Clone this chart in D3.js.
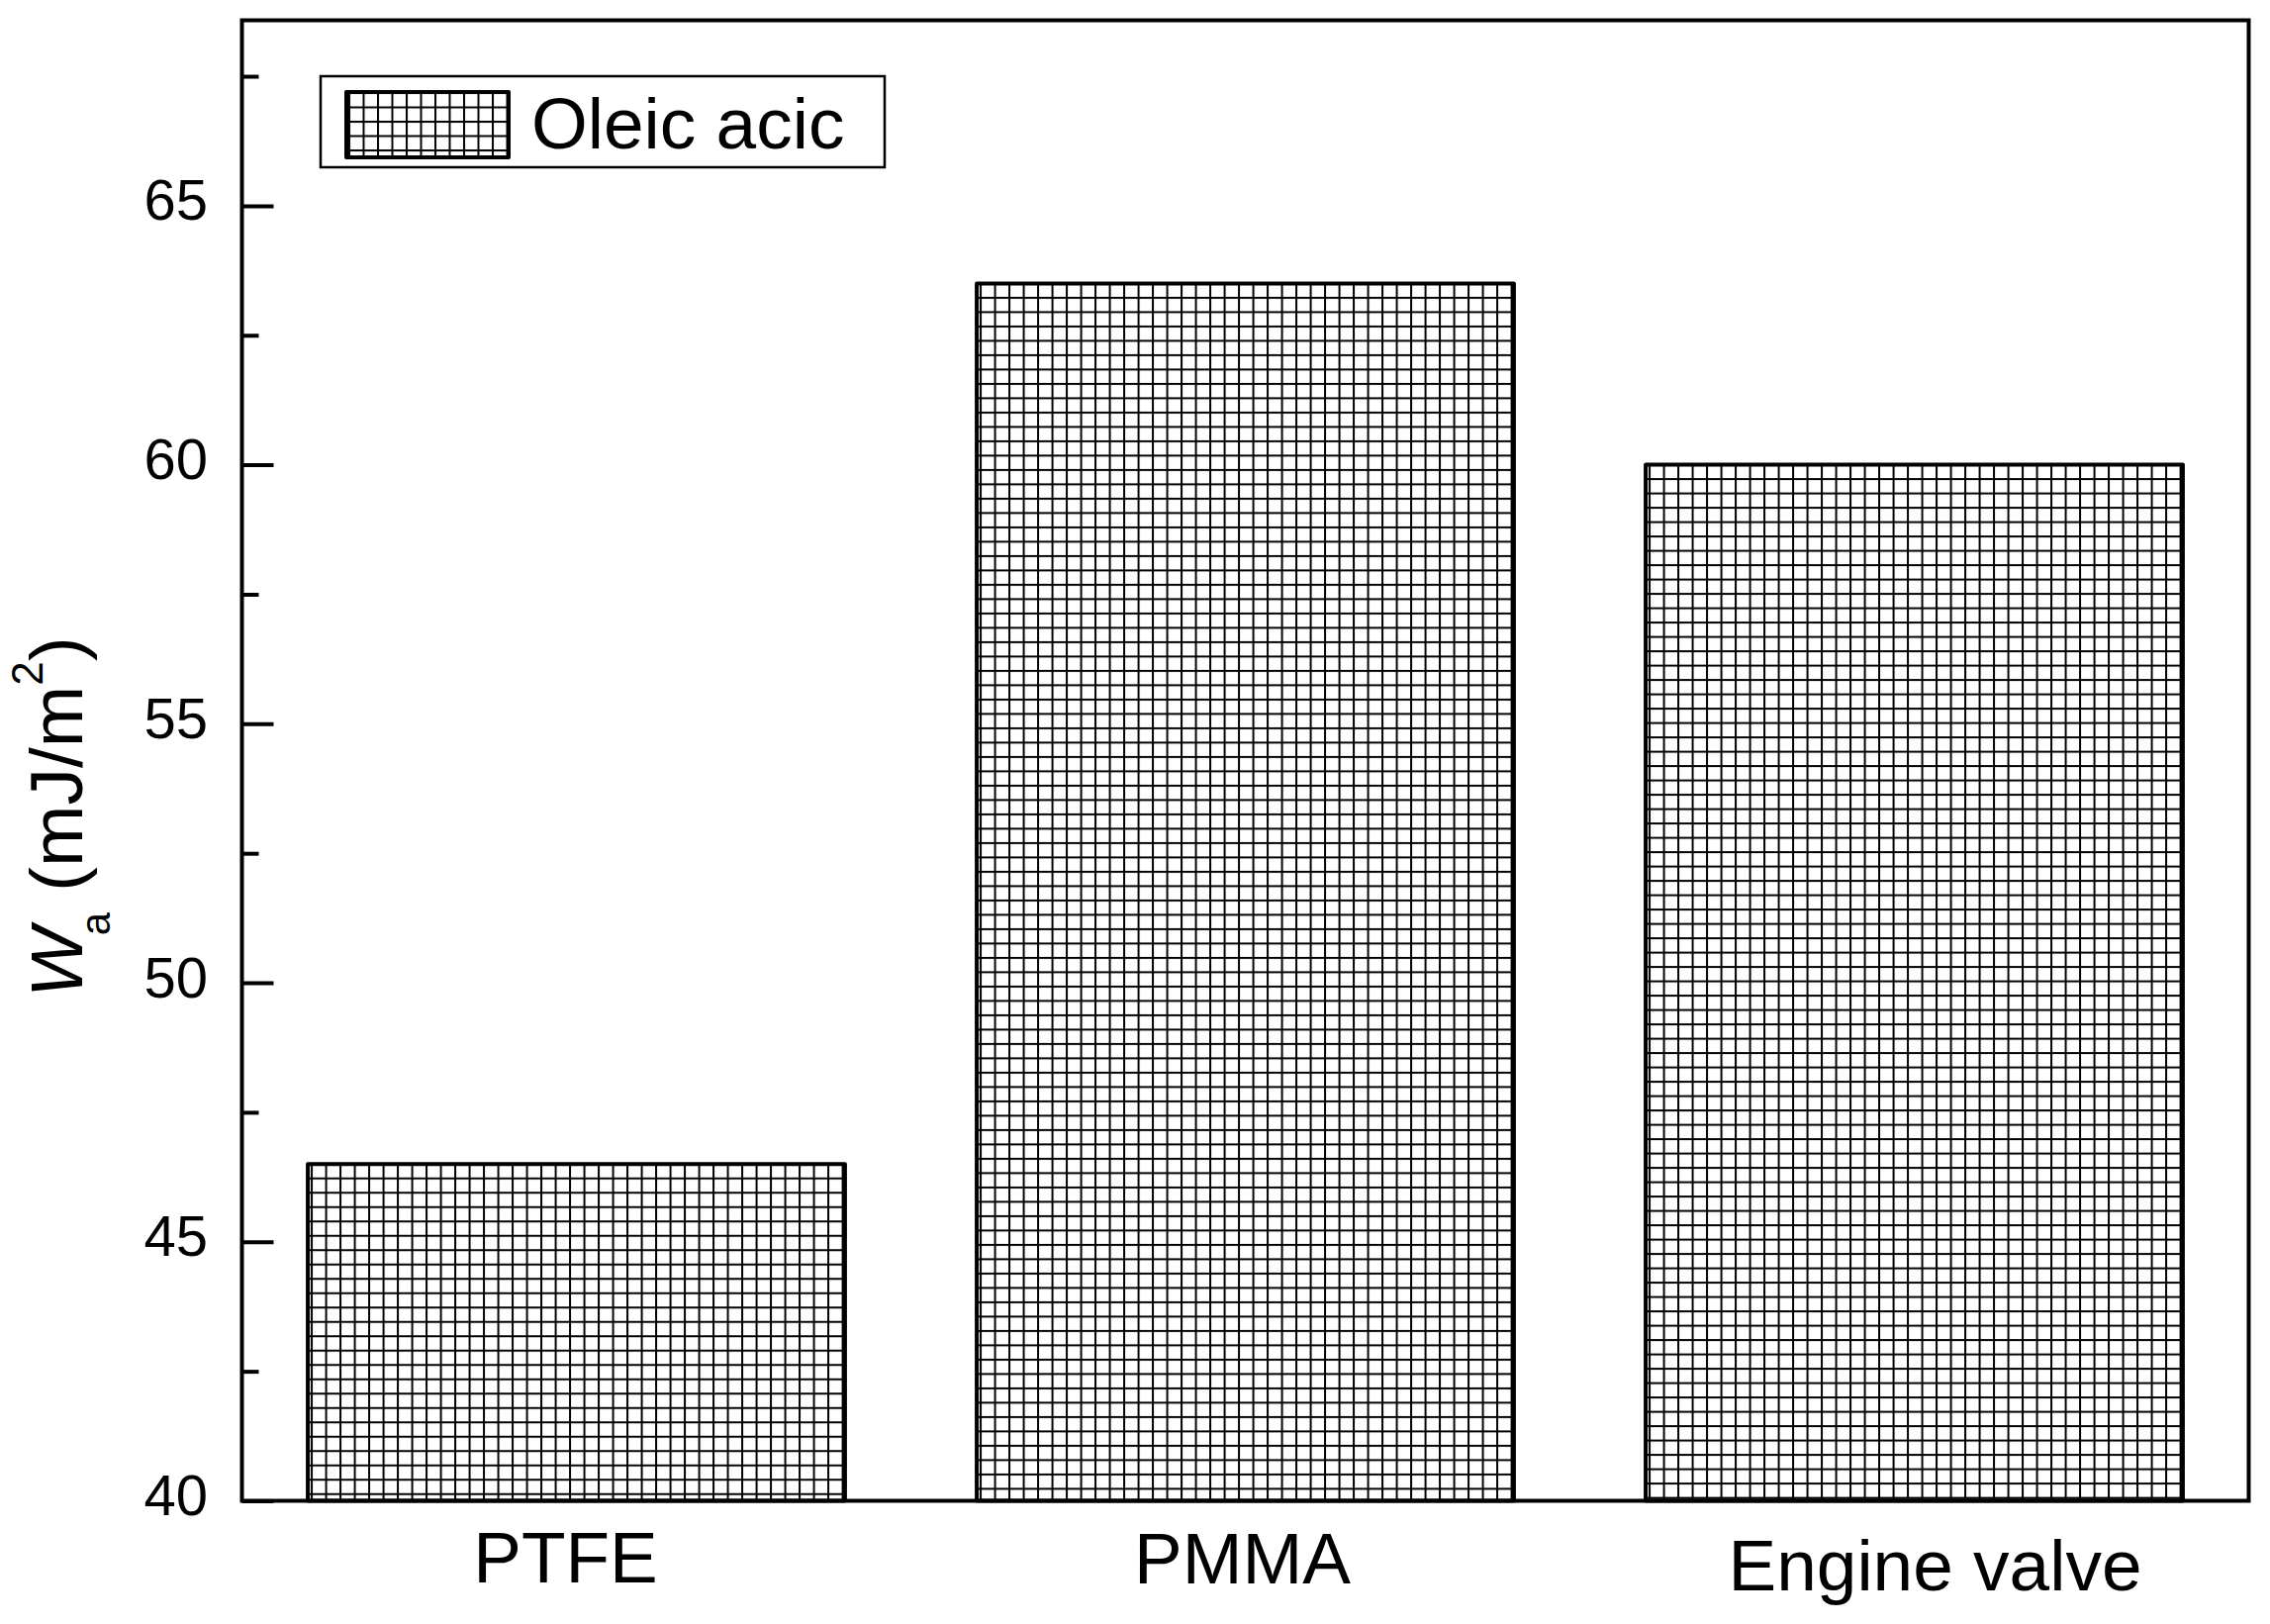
<!DOCTYPE html>
<html>
<head>
<meta charset="utf-8">
<script src="https://cdn.jsdelivr.net/npm/d3@7"></script>
<style>
  html, body { margin: 0; padding: 0; background: #fff; }
  svg { display: block; }
  text { font-family: "Liberation Sans", Arial, Helvetica, sans-serif; fill: #000; }
</style>
</head>
<body>
<svg id="chart" width="2294" height="1641"></svg>
<script>
// ---- data ----
const categories = ["PTFE", "PMMA", "Engine valve"];
const values = [46.5, 63.5, 60.0];
const seriesName = "Oleic acic";
const majorTicks = [40, 45, 50, 55, 60, 65];
const minorTicks = [42.5, 47.5, 52.5, 57.5, 62.5, 67.5];
const yDomain = [40, 68.58];

// ---- layout ----
const plot = { left: 244.5, right: 2272.5, top: 20.5, bottom: 1516.5 };
const svg = d3.select("#chart");

const x = d3.scaleBand()
  .domain(categories)
  .range([plot.left, plot.right])
  .paddingInner(0.197)
  .paddingOuter(0.0985);

const y = d3.scaleLinear().domain(yDomain).range([plot.bottom, plot.top]);

const defs = svg.append("defs");
const P = 14.5;
function makePattern(id, ox, oy) {
  const p = defs.append("pattern")
    .attr("id", id)
    .attr("patternUnits", "userSpaceOnUse")
    .attr("x", ox).attr("y", oy)
    .attr("width", P).attr("height", P);
  p.append("rect").attr("width", P).attr("height", P).attr("fill", "#fff");
  p.append("rect").attr("x", 0).attr("y", 0).attr("width", 2).attr("height", P).attr("fill", "#000");
  p.append("rect").attr("x", 0).attr("y", 0).attr("width", P).attr("height", 2).attr("fill", "#000");
}

// bars
const data = categories.map((c, i) => ({ c, v: values[i], i }));
data.forEach(d => makePattern("grid" + d.i, x(d.c) + 3, y(d.v) - 1));

svg.append("g").selectAll("rect")
  .data(data)
  .join("rect")
  .attr("x", d => x(d.c))
  .attr("y", d => y(d.v))
  .attr("width", x.bandwidth())
  .attr("height", d => y(yDomain[0]) - y(d.v))
  .attr("fill", d => `url(#grid${d.i})`)
  .attr("stroke", "#000")
  .attr("stroke-width", 4)
  .attr("stroke-linejoin", "round");

// y axis ticks (inward)
const yMajor = d3.axisLeft(y).tickValues(majorTicks).tickSize(-32).tickPadding(34.5).tickFormat(d3.format("d"));
const gMaj = svg.append("g").attr("transform", `translate(${plot.left},0)`).call(yMajor);
gMaj.select(".domain").remove();
gMaj.selectAll(".tick line").attr("stroke", "#000").attr("stroke-width", 4);
gMaj.selectAll(".tick text")
  .attr("font-size", 58)
  .attr("font-family", "Liberation Sans, Arial, sans-serif")
  .attr("fill", "#000")
  .attr("dy", "14px");

const yMinor = d3.axisLeft(y).tickValues(minorTicks).tickSize(-17).tickFormat("");
const gMin = svg.append("g").attr("transform", `translate(${plot.left},0)`).call(yMinor);
gMin.select(".domain").remove();
gMin.selectAll(".tick line").attr("stroke", "#000").attr("stroke-width", 4);

// x axis labels (small per-label nudges as in the original figure)
const labelNudgeX = [-11, -3, 21];
const labelNudgeY = [0, 1, 8];
const xAxis = d3.axisBottom(x).tickSize(0).tickPadding(0);
const gX = svg.append("g").attr("transform", `translate(0,${plot.bottom})`).call(xAxis);
gX.select(".domain").remove();
gX.selectAll(".tick text")
  .attr("font-size", 73)
  .attr("font-family", "Liberation Sans, Arial, sans-serif")
  .attr("fill", "#000")
  .attr("x", (d, i) => labelNudgeX[i])
  .attr("y", (d, i) => labelNudgeY[i])
  .attr("dy", "82px");

// frame
svg.append("rect")
  .attr("x", plot.left).attr("y", plot.top)
  .attr("width", plot.right - plot.left)
  .attr("height", plot.bottom - plot.top)
  .attr("fill", "none")
  .attr("stroke", "#000")
  .attr("stroke-width", 4);

// y label
const yl = svg.append("text")
  .attr("transform", "translate(83,1008) rotate(-90)")
  .attr("font-size", 75);
yl.append("tspan").attr("font-style", "italic").text("W");
yl.append("tspan").attr("font-size", 42).attr("dy", 28).attr("dx", -8).text("a");
yl.append("tspan").attr("dy", -28).text(" (mJ/m");
yl.append("tspan").attr("font-size", 44).attr("dy", -40).text("2");
yl.append("tspan").attr("dy", 40).text(")");

// legend
const lg = svg.append("g");
lg.append("rect")
  .attr("x", 324).attr("y", 77).attr("width", 570).attr("height", 92)
  .attr("fill", "#fff").attr("stroke", "#000").attr("stroke-width", 2.5);
makePattern("gridLeg", 352, 93);
lg.append("rect")
  .attr("x", 350).attr("y", 93).attr("width", 164).attr("height", 66)
  .attr("fill", "url(#gridLeg)")
  .attr("stroke", "#000").attr("stroke-width", 4).attr("stroke-linejoin", "round");
lg.append("text")
  .attr("x", 537).attr("y", 150)
  .attr("font-size", 73)
  .text(seriesName);
</script>
</body>
</html>
